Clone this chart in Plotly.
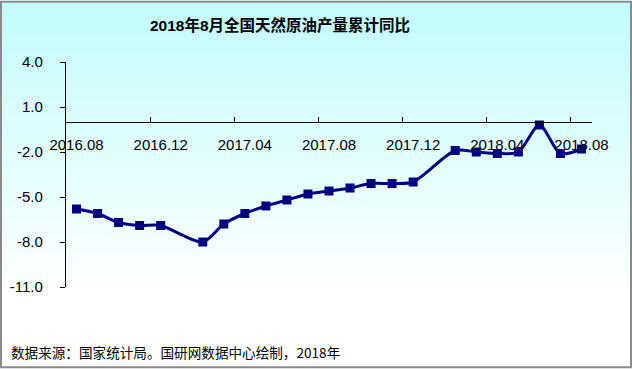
import plotly.graph_objects as go

months = ["2016.08", "2016.09", "2016.10", "2016.11", "2016.12",
          "2017.01", "2017.02", "2017.03", "2017.04", "2017.05", "2017.06",
          "2017.07", "2017.08", "2017.09", "2017.10", "2017.11", "2017.12",
          "2018.01", "2018.02", "2018.03", "2018.04", "2018.05", "2018.06",
          "2018.07", "2018.08"]
values = [-5.8, -6.1, -6.7, -6.9, -6.9,
          None, -8.0, -6.8, -6.1, -5.6, -5.2,
          -4.8, -4.6, -4.4, -4.1, -4.1, -4.0,
          None, -1.9, -2.0, -2.1, -2.0, -0.2,
          -2.1, -1.8]
label_months = ["2016.08", "2016.12", "2017.04", "2017.08", "2017.12", "2018.04", "2018.08"]
y_ticks = [4.0, 1.0, -2.0, -5.0, -8.0, -11.0]
title_text = "2018年8月全国天然原油产量累计同比"
source_text = "数据来源：国家统计局。国研网数据中心绘制，2018年"

W, H = 632, 369
L, R, T, B = 66, 40, 61.5, 81.5
PW, PH = W - L - R, H - T - B

def px2x(px):
    return (px - L) / PW

def py2y(py):
    return (H - B - py) / PH

fig = go.Figure()
fig.add_trace(go.Scatter(
    x=months, y=values, mode="lines+markers",
    line=dict(color="#000080", width=3, shape="spline", smoothing=0.8),
    marker=dict(symbol="square", size=9, color="#000080"),
    connectgaps=True, showlegend=False, cliponaxis=False,
))

# gradient background
shapes = []
n = 60
top_c = (194, 252, 252)
for i in range(n):
    p0 = 300 * i / n
    p1 = 300 * (i + 1) / n + 0.5
    t = i / (n - 1)
    c = tuple(int(round(top_c[k] + (255 - top_c[k]) * t)) for k in range(3))
    shapes.append(dict(type="rect", xref="paper", yref="paper", layer="below",
                       x0=px2x(0), x1=px2x(W), y0=py2y(p1), y1=py2y(p0),
                       line=dict(width=0), fillcolor="rgb(%d,%d,%d)" % c))
shapes.append(dict(type="rect", xref="paper", yref="paper", layer="above",
                   x0=px2x(1), x1=px2x(W - 1), y0=py2y(H - 1), y1=py2y(1),
                   line=dict(color="#8a8a8a", width=2), fillcolor="rgba(0,0,0,0)"))

fig.update_layout(
    width=W, height=H,
    margin=dict(l=L, r=R, t=T, b=B, autoexpand=False),
    paper_bgcolor="white", plot_bgcolor="rgba(0,0,0,0)",
    shapes=shapes,
    xaxis=dict(type="category", categoryorder="array", categoryarray=months,
               tickmode="array", tickvals=label_months, ticktext=label_months,
               tickson="boundaries", ticks="inside", ticklen=5, tickcolor="black",
               tickangle=0,
               showline=True, linecolor="black", linewidth=1.3,
               showgrid=False, zeroline=False,
               anchor="free", position=11 / 15, range=[-0.5, 24.5],
               ticklabelstandoff=9,
               tickfont=dict(family="Liberation Sans", size=15, color="black")),
    yaxis=dict(range=[-11, 4], domain=[0, 1], tickmode="array", tickvals=y_ticks,
               ticktext=["%.1f" % v for v in y_ticks],
               ticks="outside", ticklen=5, tickcolor="black",
               showline=True, linecolor="black", linewidth=1.3,
               showgrid=False, zeroline=False, ticklabelstandoff=14,
               tickfont=dict(family="Liberation Sans", size=15, color="black")),
    annotations=[
        dict(text="<b>" + title_text + "</b>", xref="paper", yref="paper",
             x=px2x(280), y=py2y(24), xanchor="center", yanchor="middle",
             showarrow=False,
             font=dict(family="Liberation Sans, Noto Sans CJK SC", size=15.5, color="black")),
        dict(text=source_text, xref="paper", yref="paper",
             x=px2x(9), y=py2y(353), xanchor="left", yanchor="middle",
             showarrow=False,
             font=dict(family="Noto Sans CJK SC", size=13.6, color="black"))],
)

fig.write_html("out.html")
